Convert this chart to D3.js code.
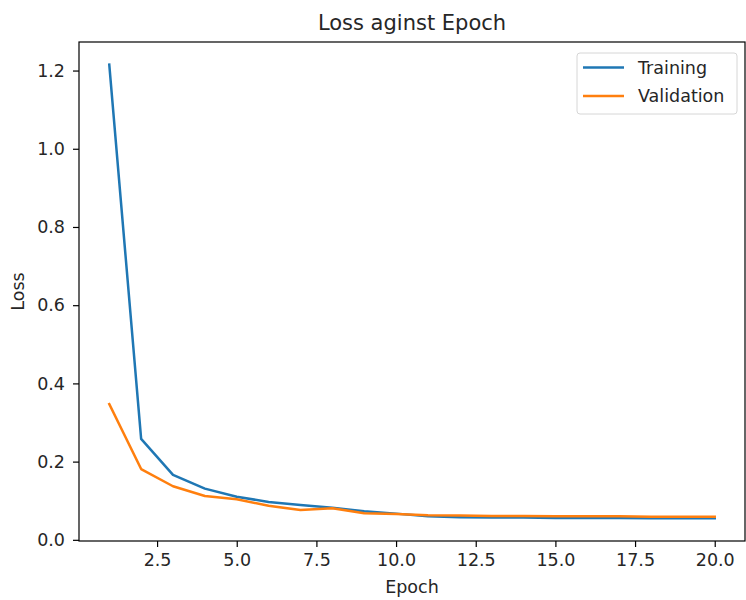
<!DOCTYPE html>
<html>
<head>
<meta charset="utf-8">
<script src="https://cdn.jsdelivr.net/npm/d3@7"></script>
<style>
  body { margin: 0; background: #fff; }
  text { font-family: "DejaVu Sans", sans-serif; fill: #262626; }
</style>
</head>
<body>
<svg id="chart" width="746" height="600"></svg>
<script>
// values
var epochs = [1, 2, 3, 4, 5, 6, 7, 8, 9, 10, 11, 12, 13, 14, 15, 16, 17, 18, 19, 20];
var trainingLoss = [1.215, 0.258, 0.166, 0.131, 0.110, 0.097, 0.089, 0.082, 0.073, 0.067,
                    0.060, 0.058, 0.057, 0.057, 0.056, 0.056, 0.056, 0.055, 0.055, 0.055];
var validationLoss = [0.347, 0.181, 0.137, 0.112, 0.104, 0.087, 0.076, 0.081, 0.068, 0.066,
                      0.063, 0.062, 0.061, 0.061, 0.060, 0.060, 0.060, 0.059, 0.059, 0.059];
var xTicks = [2.5, 5.0, 7.5, 10.0, 12.5, 15.0, 17.5, 20.0];
var yTicks = [0.0, 0.2, 0.4, 0.6, 0.8, 1.0, 1.2];
var seriesNames = ["Training", "Validation"];
var seriesColors = ["#1f77b4", "#ff7f0e"];

var svg = d3.select("#chart");
// note: "top" is taken by window.top, so plot edges get their own names
var plotL = 79, plotR = 745, plotT = 42, plotB = 541;
var fs = 17.5;

// matplotlib style 5% margins
var xSpan = d3.max(epochs) - d3.min(epochs);
var x = d3.scaleLinear()
  .domain([d3.min(epochs) - xSpan * 0.05, d3.max(epochs) + xSpan * 0.05])
  .range([plotL, plotR]);
var allY = trainingLoss.concat(validationLoss);
var yMin = d3.min(allY), yMax = d3.max(allY), ySpan = yMax - yMin;
var y = d3.scaleLinear()
  .domain([yMin - ySpan * 0.05, yMax + ySpan * 0.05])
  .range([plotB, plotT]);

var xAxis = svg.append("g")
  .attr("transform", "translate(0," + plotB + ")")
  .call(d3.axisBottom(x).tickValues(xTicks).tickFormat(d3.format(".1f")).tickSize(6).tickPadding(7));
var yAxis = svg.append("g")
  .attr("transform", "translate(" + plotL + ",0)")
  .call(d3.axisLeft(y).tickValues(yTicks).tickFormat(d3.format(".1f")).tickSize(6).tickPadding(8));
[xAxis, yAxis].forEach(function(a) {
  a.select(".domain").remove();
  a.selectAll("line").attr("stroke", "#000").attr("stroke-width", 1.2);
  a.selectAll("text").attr("font-size", fs).attr("fill", "#262626")
    .style("font-family", "'DejaVu Sans', sans-serif");
});

var line = d3.line()
  .x(function(d, i) { return x(epochs[i]); })
  .y(function(d) { return y(d); });

[trainingLoss, validationLoss].forEach(function(s, i) {
  svg.append("path")
    .datum(s)
    .attr("fill", "none")
    .attr("stroke", seriesColors[i])
    .attr("stroke-width", 2.5)
    .attr("stroke-linejoin", "round")
    .attr("stroke-linecap", "square")
    .attr("d", line);
});

// frame
svg.append("rect")
  .attr("x", plotL).attr("y", plotT)
  .attr("width", plotR - plotL).attr("height", plotB - plotT)
  .attr("fill", "none").attr("stroke", "#000").attr("stroke-width", 1.2);

svg.append("text")
  .attr("x", (plotL + plotR) / 2).attr("y", 30)
  .attr("text-anchor", "middle").attr("font-size", 21)
  .text("Loss aginst Epoch");

svg.append("text")
  .attr("x", (plotL + plotR) / 2).attr("y", 593)
  .attr("text-anchor", "middle").attr("font-size", fs)
  .text("Epoch");

svg.append("text")
  .attr("transform", "translate(24," + (plotT + plotB) / 2 + ") rotate(-90)")
  .attr("text-anchor", "middle").attr("font-size", fs)
  .text("Loss");

// legend
var legend = svg.append("g").attr("transform", "translate(577,53)");
legend.append("rect")
  .attr("width", 160).attr("height", 61).attr("rx", 3)
  .attr("fill", "#fff").attr("fill-opacity", 0.8)
  .attr("stroke", "#d6d6d6").attr("stroke-width", 1);
seriesNames.forEach(function(name, i) {
  var ly = 14.5 + i * 28.4;
  legend.append("line")
    .attr("x1", 6).attr("x2", 47).attr("y1", ly).attr("y2", ly)
    .attr("stroke", seriesColors[i]).attr("stroke-width", 2.5);
  legend.append("text")
    .attr("x", 61).attr("y", ly + 6.3)
    .attr("font-size", fs)
    .text(name);
});
</script>
</body>
</html>
